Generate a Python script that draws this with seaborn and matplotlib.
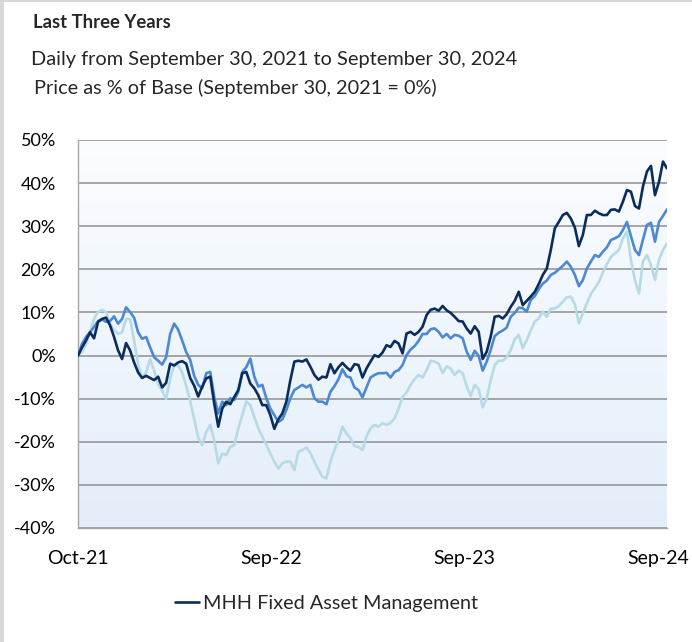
import numpy as np
import pandas as pd
import seaborn as sns
import matplotlib.pyplot as plt
from matplotlib.lines import Line2D
from matplotlib.patches import Rectangle
from matplotlib.colors import LinearSegmentedColormap

# price as % of base (roughly weekly steps)
navy = [0, 1.9, 3.5, 5.4, 4.0, 7.8, 8.5, 8.8, 7.0, 4.3,
        1.2, -0.8, 2.9, 1.2, -1.6, -3.9, -5.2, -4.7, -5.2, -5.7,
        -4.9, -7.4, -6.3, -1.9, -2.3, -1.6, -1.3, -1.9, -5.2, -7.0,
        -9.5, -7.2, -5.3, -4.9, -11.1, -16.5, -12.3, -10.7, -11.3, -9.6,
        -8.0, -4.1, -3.8, -6.5, -7.6, -9.2, -11.5, -11.5, -13.8, -17.0,
        -14.8, -13.4, -10.7, -5.7, -1.4, -1.2, -1.4, -0.9, -2.6, -4.5,
        -5.6, -4.9, -5.1, -2.0, -4.1, -2.7, -1.7, -2.7, -3.5, -2.0,
        -2.2, -5.1, -3.0, -1.4, 0.1, -0.3, 0.7, 2.4, 2.0, 3.4,
        2.8, 0.5, 5.1, 5.5, 4.8, 5.5, 6.7, 9.4, 10.6, 10.9,
        10.4, 11.5, 10.5, 9.9, 9.0, 8.0, 7.9, 6.3, 5.1, 6.8,
        5.5, -0.8, 0.9, 4.4, 9.0, 9.2, 8.6, 9.6, 11.3, 12.7,
        14.8, 11.7, 12.7, 13.7, 14.8, 16.6, 18.7, 20.2, 24.5, 29.5,
        31.0, 32.6, 33.1, 31.8, 29.7, 25.4, 28.0, 32.6, 32.6, 33.6,
        33.0, 32.6, 32.6, 33.8, 33.9, 33.4, 35.7, 38.4, 38.0, 34.7,
        34.1, 39.2, 42.7, 44.0, 37.2, 40.3, 45.0, 43.4]

medium = [0, 2.7, 4.3, 5.4, 6.6, 8.0, 8.4, 7.8, 8.0, 9.1,
          7.4, 8.5, 11.2, 10.1, 8.8, 5.4, 3.9, 4.3, 1.9, -0.4,
          -1.2, -2.1, -0.4, 5.0, 7.4, 6.0, 3.5, 0.8, -1.0, -4.7,
          -6.8, -7.6, -4.1, -3.8, -9.6, -13.4, -10.7, -11.5, -9.9, -10.3,
          -8.4, -3.8, -2.7, -0.7, -4.9, -7.2, -6.8, -9.9, -12.3, -13.8,
          -15.4, -14.8, -12.6, -9.9, -8.0, -7.4, -6.8, -7.4, -6.8, -9.9,
          -10.7, -10.7, -11.3, -8.4, -7.1, -5.5, -3.2, -4.8, -5.1, -7.4,
          -8.0, -9.7, -7.4, -5.1, -4.5, -4.1, -4.1, -4.0, -5.1, -3.8,
          -3.4, -2.2, 0.1, 1.4, 2.2, 3.4, 5.0, 5.0, 6.1, 6.3,
          5.5, 4.2, 5.0, 4.0, 4.8, 4.6, 4.0, 0.9, -1.0, 1.1,
          -0.1, -3.5, -1.4, 1.3, 4.5, 5.3, 5.8, 6.5, 9.0, 9.9,
          11.1, 11.0, 10.2, 12.9, 13.8, 15.4, 16.7, 17.4, 18.7, 19.2,
          20.0, 20.8, 21.8, 20.6, 18.7, 16.1, 17.5, 20.2, 21.8, 23.3,
          22.9, 24.1, 25.1, 26.8, 27.2, 27.7, 29.1, 31.0, 27.7, 24.5,
          23.3, 26.9, 30.3, 30.8, 26.4, 31.0, 32.4, 33.9]

light = [0, 0.8, 2.7, 5.4, 8.5, 10.1, 10.6, 10.1, 7.4, 6.0,
         5.0, 5.4, 8.5, 8.5, 3.5, -1.9, -5.2, -3.9, -0.8, -3.5,
         -6.6, -8.1, -10.1, -5.4, -2.3, -2.3, -3.9, -7.0, -10.5, -14.7,
         -19.0, -20.8, -17.7, -16.1, -19.6, -25.0, -22.7, -23.1, -21.2, -20.8,
         -16.9, -13.8, -10.7, -11.5, -14.2, -16.9, -18.8, -20.8, -22.7, -24.6,
         -26.2, -25.0, -24.6, -24.6, -26.6, -22.3, -21.9, -21.3, -22.7, -24.6,
         -26.5, -28.1, -28.5, -24.6, -21.9, -19.6, -16.5, -18.1, -19.2, -21.0,
         -21.2, -21.9, -18.8, -16.9, -16.1, -16.5, -15.7, -16.1, -15.6, -14.6,
         -12.3, -9.6, -8.6, -6.8, -5.5, -4.5, -5.1, -3.4, -1.2, -1.4,
         -1.9, -4.1, -2.5, -3.0, -4.5, -3.5, -4.1, -7.1, -9.4, -6.8,
         -7.8, -12.0, -9.9, -5.7, -2.2, -1.2, -1.2, -0.4, 1.3, 3.8,
         4.8, 1.7, 3.6, 5.8, 7.9, 8.6, 10.2, 9.0, 10.9, 10.9,
         11.5, 12.5, 13.5, 13.7, 11.9, 7.5, 9.8, 12.1, 14.3, 15.6,
         17.1, 19.2, 21.2, 22.9, 23.7, 24.5, 27.2, 28.7, 22.2, 17.5,
         14.4, 21.8, 23.3, 21.0, 17.5, 22.2, 24.5, 26.0]

tick_dates = ["2021-09-30", "2022-09-25", "2023-09-19", "2024-09-13"]
tick_labels = ["Oct-21", "Sep-22", "Sep-23", "Sep-24"]
y_ticks = [-40, -30, -20, -10, 0, 10, 20, 30, 40, 50]

dates = pd.date_range("2021-09-30", "2024-09-30", periods=len(navy))
df = pd.DataFrame({"date": dates, "navy": navy, "medium": medium, "light": light})

sns.set_style("white")
plt.rcParams['font.family'] = ['Lato', 'DejaVu Sans']

c_navy = "#0b2d5c"
c_med = "#4d88d4"
c_light = "#b6dbe6"

fig = plt.figure(figsize=(6.92, 6.42), dpi=100)
ax = fig.add_axes([78/692, 1-528/642, 589/692, 388/642])

# soft blue gradient behind the plot
bg = LinearSegmentedColormap.from_list("bg", ["#fbfdff", "#e3eefa"])
ax.imshow(np.linspace(0, 1, 256).reshape(-1, 1), extent=[0, 1, 0, 1], transform=ax.transAxes,
          aspect="auto", cmap=bg, zorder=0)

sns.lineplot(data=df, x="date", y="light", color=c_light, lw=1.9, ax=ax, legend=False, zorder=3)
sns.lineplot(data=df, x="date", y="medium", color=c_med, lw=1.9, ax=ax, legend=False, zorder=4)
sns.lineplot(data=df, x="date", y="navy", color=c_navy, lw=1.9, ax=ax, legend=False, zorder=5)

ax.set_xlim(dates[0], dates[-1])
ax.set_ylim(-40, 50)
ax.set_yticks(y_ticks)
ax.set_yticklabels([f"{v}%" for v in y_ticks])
ax.set_xticks(pd.to_datetime(tick_dates))
ax.set_xticklabels(tick_labels)
ax.set_xlabel("")
ax.set_ylabel("")

ax.yaxis.grid(True, color="#8f8f8f", lw=1.1, zorder=1)
ax.set_axisbelow(True)
for s in ["top", "right"]:
    ax.spines[s].set_visible(False)
for s in ["left", "bottom"]:
    ax.spines[s].set_color("#a6a6a6")
    ax.spines[s].set_linewidth(1.0)
ax.tick_params(axis="both", direction="out", length=6, color="#a6a6a6", labelcolor="black")
ax.tick_params(axis="y", pad=10, labelsize=13)
ax.tick_params(axis="x", pad=10, labelsize=14)

fig.text(33/692, 1-23/642, "Last Three Years", fontsize=13.3, fontweight="bold", va="center")
fig.text(31/692, 1-60/642, "Daily from September 30, 2021 to September 30, 2024", fontsize=14.4, va="center")
fig.text(34/692, 1-88/642, "Price as % of Base (September 30, 2021 = 0%)", fontsize=14.3, va="center")

ax.legend(handles=[Line2D([], [], color=c_navy, lw=1.9)], labels=["MHH Fixed Asset Management"],
          loc="center", bbox_to_anchor=(326.5/692, 1-603/642), bbox_transform=fig.transFigure,
          frameon=False, handlelength=1.25, handletextpad=0.2, fontsize=14.3)

# light grey frame on top and left edge
fig.add_artist(Rectangle((0, 1-2/642), 1, 2/642, transform=fig.transFigure, color="#d9d9d9", lw=0))
fig.add_artist(Rectangle((0, 0), 4/692, 1, transform=fig.transFigure, color="#d9d9d9", lw=0))

fig.savefig("out.png", dpi=100)
